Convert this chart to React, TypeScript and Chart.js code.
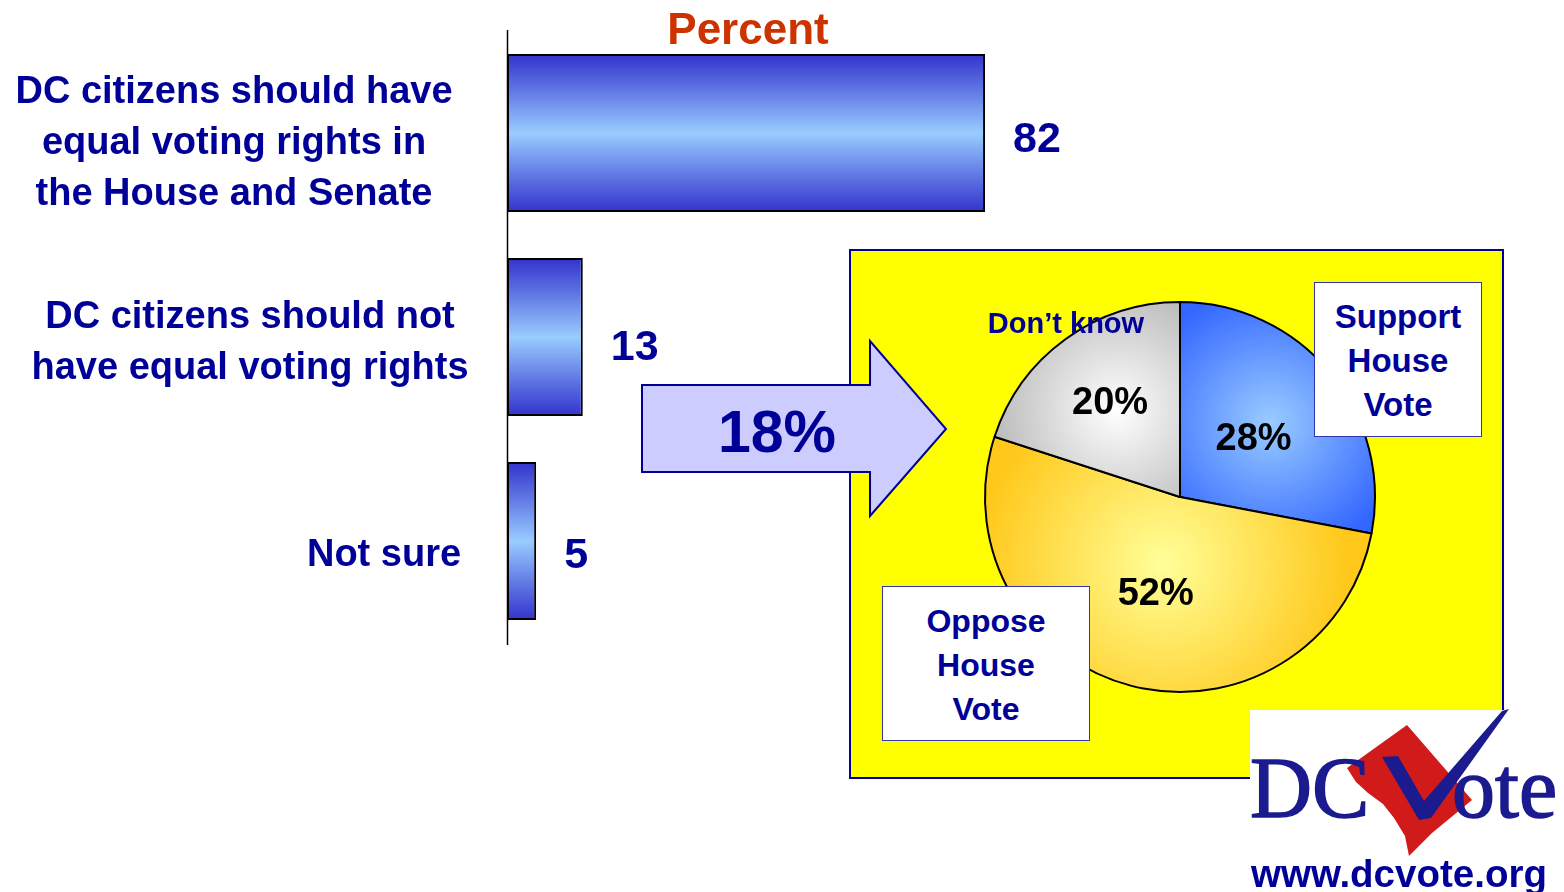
import React, { useEffect, useRef } from "react";
import { Chart, registerables } from "chart.js";

Chart.register(...registerables);

// ---------- data ----------
const categories: string[][] = [
  ["DC citizens should have", "equal voting rights in", "the House and Senate"],
  ["DC citizens should not", "have equal voting rights"],
  ["Not sure"],
];
const barValues: number[] = [82, 13, 5];
const axisTitle = "Percent";

const pieLabels: string[] = ["Support House Vote", "Oppose House Vote", "Don\u2019t know"];
const pieValues: number[] = [28, 52, 20];
const arrowLabel = "18%";
const supportLines: string[] = ["Support", "House", "Vote"];
const opposeLines: string[] = ["Oppose", "House", "Vote"];
const siteUrl = "www.dcvote.org";

// ---------- style ----------
const NAVY = "#000099";
const SANS = '"Liberation Sans", Arial, Helvetica, sans-serif';
const SERIF = '"Liberation Serif", "Times New Roman", serif';

const W = 1564;
const H = 892;

function BarChart() {
  const ref = useRef<HTMLCanvasElement | null>(null);
  useEffect(() => {
    if (!ref.current) return;
    const barPct = 0.775;
    const labelCenterX = [234, 250, 384];
    const labelDy = [11, 6, 15];
    const valueDy = [7, 11, 15];
    const lineH = 51;

    const gradientFor = (c: any) => {
      const chart = c.chart;
      const y = chart.scales && chart.scales.y;
      if (!y || c.dataIndex === undefined) return "#6699ff";
      const center = y.getPixelForValue(c.dataIndex);
      const half = ((y.bottom - y.top) / categories.length) * barPct / 2;
      if (!isFinite(center) || !isFinite(half) || half <= 0) return "#6699ff";
      const g = chart.ctx.createLinearGradient(0, center - half, 0, center + half);
      g.addColorStop(0, "#3333cc");
      g.addColorStop(0.2, "#5a6ee0");
      g.addColorStop(0.5, "#99ccff");
      g.addColorStop(0.8, "#5a6ee0");
      g.addColorStop(1, "#3333cc");
      return g;
    };

    const decor = {
      id: "barDecor",
      afterDatasetsDraw(chart: any) {
        const { ctx, chartArea } = chart;
        const xs = chart.scales.x;
        const ys = chart.scales.y;
        ctx.save();
        // axis line
        const x0 = Math.round(xs.getPixelForValue(0)) + 0.5;
        ctx.strokeStyle = "#000";
        ctx.lineWidth = 1.5;
        ctx.beginPath();
        ctx.moveTo(x0, chartArea.top - 1);
        ctx.lineTo(x0, chartArea.bottom + 2);
        ctx.stroke();

        // title
        ctx.fillStyle = "#cc3300";
        ctx.font = `bold 44px ${SANS}`;
        ctx.textAlign = "center";
        ctx.textBaseline = "middle";
        ctx.fillText(axisTitle, 748, 32);

        // category labels
        ctx.fillStyle = NAVY;
        ctx.font = `bold 38px ${SANS}`;
        categories.forEach((lines, i) => {
          const cy = ys.getPixelForValue(i) + labelDy[i];
          const startY = cy - ((lines.length - 1) * lineH) / 2;
          lines.forEach((ln, j) => {
            ctx.fillText(ln, labelCenterX[i], startY + j * lineH);
          });
        });

        // value labels
        ctx.font = `bold 43px ${SANS}`;
        ctx.textAlign = "left";
        barValues.forEach((v, i) => {
          const px = xs.getPixelForValue(v) + 28;
          const py = ys.getPixelForValue(i) + valueDy[i];
          ctx.fillText(String(v), px, py);
        });
        ctx.restore();
      },
    };

    const chart = new Chart(ref.current, {
      type: "bar",
      data: {
        labels: categories.map((c) => c.join(" ")),
        datasets: [
          {
            data: barValues,
            backgroundColor: gradientFor,
            borderColor: "#000",
            borderWidth: 2,
            borderSkipped: false,
            categoryPercentage: 1,
            barPercentage: barPct,
          },
        ],
      },
      options: {
        indexAxis: "y",
        responsive: false,
        animation: false,
        devicePixelRatio: 1,
        layout: { padding: { left: 507, right: 474, top: 31, bottom: 249 } },
        scales: {
          x: { min: 0, max: 100, display: false },
          y: { display: false },
        },
        plugins: { legend: { display: false }, tooltip: { enabled: false } },
      },
      plugins: [decor],
    } as any);
    return () => chart.destroy();
  }, []);
  return (
    <canvas
      ref={ref}
      width={W}
      height={H}
      style={{ position: "absolute", left: 0, top: 0, width: W, height: H }}
    />
  );
}

function PieChart() {
  const ref = useRef<HTMLCanvasElement | null>(null);
  useEffect(() => {
    if (!ref.current) return;
    const R = 195;
    const grads = [
      ["#99ccff", "#3366ff"],
      ["#ffff99", "#ffc81a"],
      ["#ffffff", "#bdbdbd"],
    ];
    const centroidFrac = [0.6, 0.35, 0.55];
    const gradRadius = [0.7, 0.95, 0.62];
    const labelFrac = [0.49, 0.5, 0.61];
    const total = pieValues.reduce((a, b) => a + b, 0);

    const bg = (c: any) => {
      const chart = c.chart;
      const ca = chart.chartArea;
      const i = c.dataIndex;
      if (!ca || i === undefined) return grads[i || 0][1];
      const cx = (ca.left + ca.right) / 2;
      const cy = (ca.top + ca.bottom) / 2;
      if (!isFinite(cx) || !isFinite(cy)) return grads[i][1];
      let start = 0;
      for (let k = 0; k < i; k++) start += pieValues[k];
      const mid = ((start + pieValues[i] / 2) / total) * Math.PI * 2 - Math.PI / 2;
      const px = cx + Math.cos(mid) * R * centroidFrac[i];
      const py = cy + Math.sin(mid) * R * centroidFrac[i];
      const g = chart.ctx.createRadialGradient(px, py, 0, px, py, R * gradRadius[i]);
      g.addColorStop(0, grads[i][0]);
      g.addColorStop(1, grads[i][1]);
      return g;
    };

    const pieText = {
      id: "pieText",
      afterDatasetsDraw(chart: any) {
        const { ctx } = chart;
        const meta = chart.getDatasetMeta(0);
        ctx.save();
        ctx.textAlign = "center";
        ctx.textBaseline = "middle";
        ctx.fillStyle = "#000";
        ctx.font = `bold 38px ${SANS}`;
        let cx = 0;
        let cy = 0;
        meta.data.forEach((arc: any, i: number) => {
          const p = arc.getProps(["x", "y", "startAngle", "endAngle", "outerRadius"], true);
          cx = p.x;
          cy = p.y;
          const mid = (p.startAngle + p.endAngle) / 2;
          const r = p.outerRadius * labelFrac[i];
          ctx.fillText(`${pieValues[i]}%`, p.x + Math.cos(mid) * r, p.y + Math.sin(mid) * r + 3);
        });
        // "Don't know" slice label
        ctx.fillStyle = NAVY;
        ctx.font = `bold 29px ${SANS}`;
        ctx.fillText(pieLabels[2], cx - 114, cy - 172);
        ctx.restore();
      },
    };

    const chart = new Chart(ref.current, {
      type: "pie",
      data: {
        labels: pieLabels,
        datasets: [
          {
            data: pieValues,
            backgroundColor: bg,
            borderColor: "#000",
            borderWidth: 2,
          },
        ],
      },
      options: {
        responsive: false,
        animation: false,
        devicePixelRatio: 1,
        radius: R,
        plugins: { legend: { display: false }, tooltip: { enabled: false } },
      },
      plugins: [pieText],
    } as any);
    return () => chart.destroy();
  }, []);
  return (
    <canvas
      ref={ref}
      width={400}
      height={400}
      style={{ position: "absolute", left: 980, top: 297, width: 400, height: 400 }}
    />
  );
}

function LabelBox(props: { left: number; top: number; width: number; height: number; size: number; lines: string[] }) {
  const { left, top, width, height, size, lines } = props;
  return (
    <div
      style={{
        position: "absolute",
        left,
        top,
        width,
        height,
        boxSizing: "border-box",
        background: "#fff",
        border: "1.5px solid #3333aa",
        display: "flex",
        flexDirection: "column",
        alignItems: "center",
        justifyContent: "center",
        paddingTop: 3,
        color: NAVY,
        fontFamily: SANS,
        fontWeight: "bold",
        fontSize: size,
        lineHeight: "44px",
        textAlign: "center",
      }}
    >
      {lines.map((l, i) => (
        <div key={i}>{l}</div>
      ))}
    </div>
  );
}

export default function App() {
  const LOGO_BLUE = "#1b1b8f";
  return (
    <div
      style={{
        position: "fixed",
        left: 0,
        top: 0,
        width: W,
        height: H,
        overflow: "hidden",
        background: "#fff",
      }}
    >
      <BarChart />
      <div
        style={{
          position: "absolute",
          left: 849,
          top: 249,
          width: 655,
          height: 530,
          boxSizing: "border-box",
          background: "#ffff00",
          border: "2px solid #000099",
        }}
      />
      <svg
        width={W}
        height={H}
        style={{ position: "absolute", left: 0, top: 0, pointerEvents: "none" }}
      >
        <polygon
          points="642,385 870,385 870,341 946,429 870,516 870,472 642,472"
          fill="#ccccff"
          stroke="#000099"
          strokeWidth={2}
          strokeLinejoin="miter"
        />
        <text
          x={777}
          y={452}
          textAnchor="middle"
          fontFamily={SANS}
          fontWeight="bold"
          fontSize={59}
          fill={NAVY}
        >
          {arrowLabel}
        </text>

        {/* logo */}
        <rect x={1250} y={710} width={314} height={182} fill="#ffffff" />
        <polygon
          points="1407,725 1472,800 1432,833 1409,856 1405,836 1394,818 1383,804 1368,793 1356,782 1347,768"
          fill="#d11a1a"
        />
        <text
          x={1250}
          y={817}
          fontFamily={SERIF}
          fontSize={86}
          fill={LOGO_BLUE}
          stroke={LOGO_BLUE}
          strokeWidth={1.5}
        >
          DC
        </text>
        <text
          x={1452}
          y={817}
          fontFamily={SERIF}
          fontSize={86}
          fill={LOGO_BLUE}
          stroke={LOGO_BLUE}
          strokeWidth={1.5}
        >
          ote
        </text>
        <polygon
          points="1382,757 1398,756 1424,801 1502,711 1509,709 1431,818 1419,820"
          fill={LOGO_BLUE}
        />
        <text x={1251} y={887} fontFamily={SANS} fontWeight="bold" fontSize={38.5} fill={NAVY}>
          {siteUrl}
        </text>
      </svg>
      <PieChart />
      <LabelBox left={1314} top={282} width={168} height={155} size={33} lines={supportLines} />
      <LabelBox left={882} top={586} width={208} height={155} size={32} lines={opposeLines} />
    </div>
  );
}
